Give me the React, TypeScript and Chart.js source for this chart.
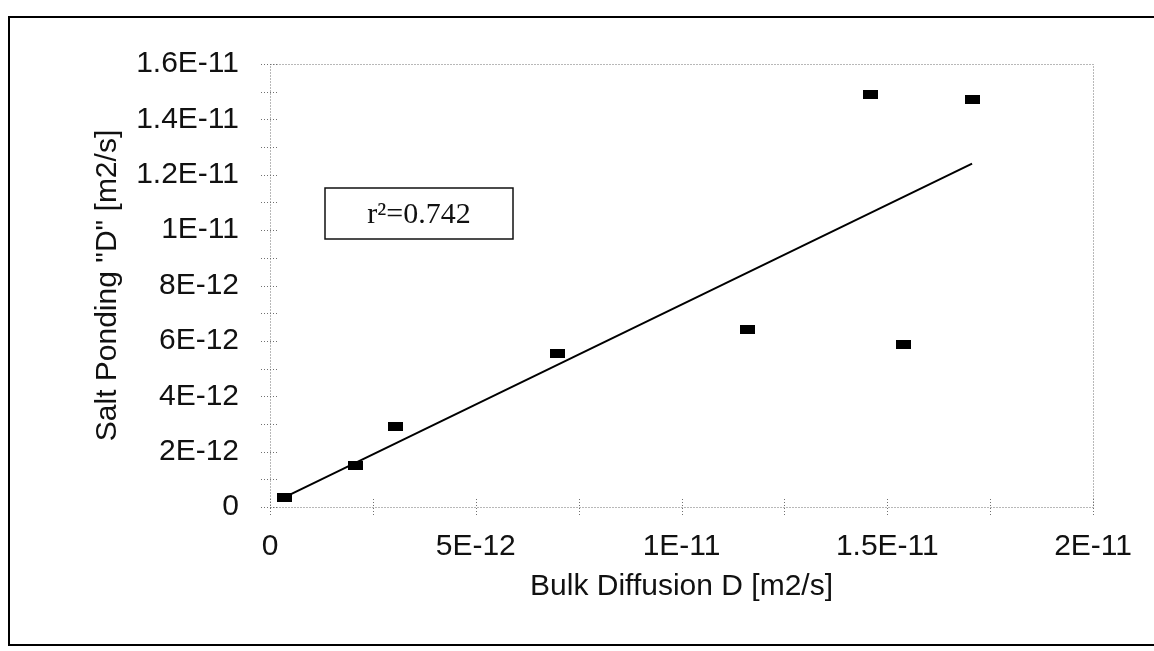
import { useEffect, useRef } from 'react';
import { Chart, registerables } from 'chart.js';

Chart.register(...registerables);

// ---- Data ----
const bulkDiffusion = [0.36e-12, 2.08e-12, 3.06e-12, 6.98e-12, 11.6e-12, 14.6e-12, 15.4e-12, 17.06e-12];
const saltPondingD = [0.33e-12, 1.49e-12, 2.9e-12, 5.55e-12, 6.42e-12, 14.9e-12, 5.87e-12, 14.7e-12];
const trendX = [0.36e-12, 17.06e-12];
const trendY = [0.36e-12, 12.4e-12];

const xTickLabels = ['0', '5E-12', '1E-11', '1.5E-11', '2E-11'];
const yTickLabels = ['0', '2E-12', '4E-12', '6E-12', '8E-12', '1E-11', '1.2E-11', '1.4E-11', '1.6E-11'];
const xAxisTitle = 'Bulk Diffusion D [m2/s]';
const yAxisTitle = 'Salt Ponding "D" [m2/s]';
const rSquaredText = 'r\u00B2=0.742';

const SANS = '"Liberation Sans", Arial, sans-serif';
const SERIF = '"Liberation Serif", "Times New Roman", serif';

const framePlugin = {
  id: 'plotFrame',
  beforeDatasetsDraw(chart: any) {
    const { ctx, chartArea: a, scales } = chart;
    ctx.save();
    ctx.strokeStyle = '#707070';
    ctx.lineWidth = 1;
    ctx.setLineDash([1, 2]);
    ctx.strokeRect(Math.round(a.left) + 0.5, Math.round(a.top) + 0.5, Math.round(a.right - a.left), Math.round(a.bottom - a.top));
    ctx.beginPath();
    scales.y.ticks.forEach((t: any) => {
      const py = Math.round(scales.y.getPixelForValue(t.value)) + 0.5;
      ctx.moveTo(a.left - 9, py);
      ctx.lineTo(a.left + 9, py);
    });
    scales.x.ticks.forEach((t: any) => {
      const px = Math.round(scales.x.getPixelForValue(t.value)) + 0.5;
      ctx.moveTo(px, a.bottom - 8);
      ctx.lineTo(px, a.bottom + 8);
    });
    ctx.stroke();
    ctx.restore();
  },
  afterDraw(chart: any) {
    const { ctx, chartArea: a } = chart;
    const bx = a.left + 55;
    const by = a.top + 124;
    const bw = 188;
    const bh = 51;
    ctx.save();
    ctx.setLineDash([]);
    ctx.strokeStyle = '#111';
    ctx.lineWidth = 1.5;
    ctx.strokeRect(bx, by, bw, bh);
    ctx.fillStyle = '#111';
    ctx.font = `30px ${SERIF}`;
    ctx.textAlign = 'center';
    ctx.textBaseline = 'alphabetic';
    ctx.fillText(rSquaredText, bx + bw / 2, by + 35);
    ctx.restore();
  },
};

export default function App() {
  const canvasRef = useRef<HTMLCanvasElement | null>(null);

  useEffect(() => {
    const canvas = canvasRef.current;
    if (!canvas) return;

    const marker = document.createElement('canvas');
    marker.width = 15;
    marker.height = 9;
    const mctx = marker.getContext('2d');
    if (mctx) {
      mctx.fillStyle = '#000';
      mctx.fillRect(0, 0, 15, 9);
    }

    const chart = new Chart(canvas, {
      type: 'scatter',
      data: {
        datasets: [
          {
            label: 'Measured',
            data: bulkDiffusion.map((x, i) => ({ x, y: saltPondingD[i] })),
            pointStyle: marker as any,
            pointRadius: 8,
            backgroundColor: '#000',
            borderColor: '#000',
            showLine: false,
            order: 0,
          },
          {
            label: 'Trend',
            data: trendX.map((x, i) => ({ x, y: trendY[i] })),
            showLine: true,
            borderColor: '#000',
            borderWidth: 2,
            pointRadius: 0,
            fill: false,
            order: 1,
          },
        ],
      },
      options: {
        responsive: false,
        animation: false,
        layout: { padding: { left: 0, right: 56, top: 64, bottom: 0 } },
        plugins: {
          legend: { display: false },
          tooltip: { enabled: false },
        },
        scales: {
          x: {
            type: 'linear',
            min: 0,
            max: 2e-11,
            grid: { display: false, drawTicks: false },
            border: { display: false },
            ticks: {
              stepSize: 2.5e-12,
              autoSkip: false,
              maxRotation: 0,
              padding: 22,
              color: '#111',
              font: { family: SANS, size: 30 },
              callback: (_v: any, i: number) => (i % 2 === 0 ? xTickLabels[i / 2] ?? '' : ''),
            },
            title: {
              display: true,
              text: xAxisTitle,
              color: '#111',
              font: { family: SANS, size: 30 },
              padding: { top: 0, bottom: 46 },
            },
            afterFit: (s: any) => {
              s.height = 144;
            },
          },
          y: {
            type: 'linear',
            min: 0,
            max: 1.6e-11,
            grid: { display: false, drawTicks: false },
            border: { display: false },
            ticks: {
              stepSize: 1e-12,
              autoSkip: false,
              padding: 31,
              color: '#111',
              font: { family: SANS, size: 30 },
              callback: (_v: any, i: number) => (i % 2 === 0 ? yTickLabels[i / 2] ?? '' : ''),
            },
            title: {
              display: true,
              text: yAxisTitle,
              color: '#111',
              font: { family: SANS, size: 30 },
              padding: { top: 90, bottom: 0 },
            },
            afterFit: (s: any) => {
              s.width = 270;
            },
          },
        },
      },
      plugins: [framePlugin],
    });

    return () => {
      chart.destroy();
    };
  }, []);

  return (
    <div style={{ position: 'fixed', left: 0, top: 0, width: 1154, height: 651, background: '#fff', overflow: 'hidden' }}>
      <div
        style={{
          position: 'absolute',
          left: 8,
          top: 16,
          width: 1160,
          height: 626,
          borderLeft: '2px solid #000',
          borderTop: '2px solid #000',
          borderBottom: '2px solid #000',
        }}
      />
      <canvas ref={canvasRef} width={1154} height={651} style={{ position: 'absolute', left: 0, top: 0, width: 1154, height: 651 }} />
    </div>
  );
}
